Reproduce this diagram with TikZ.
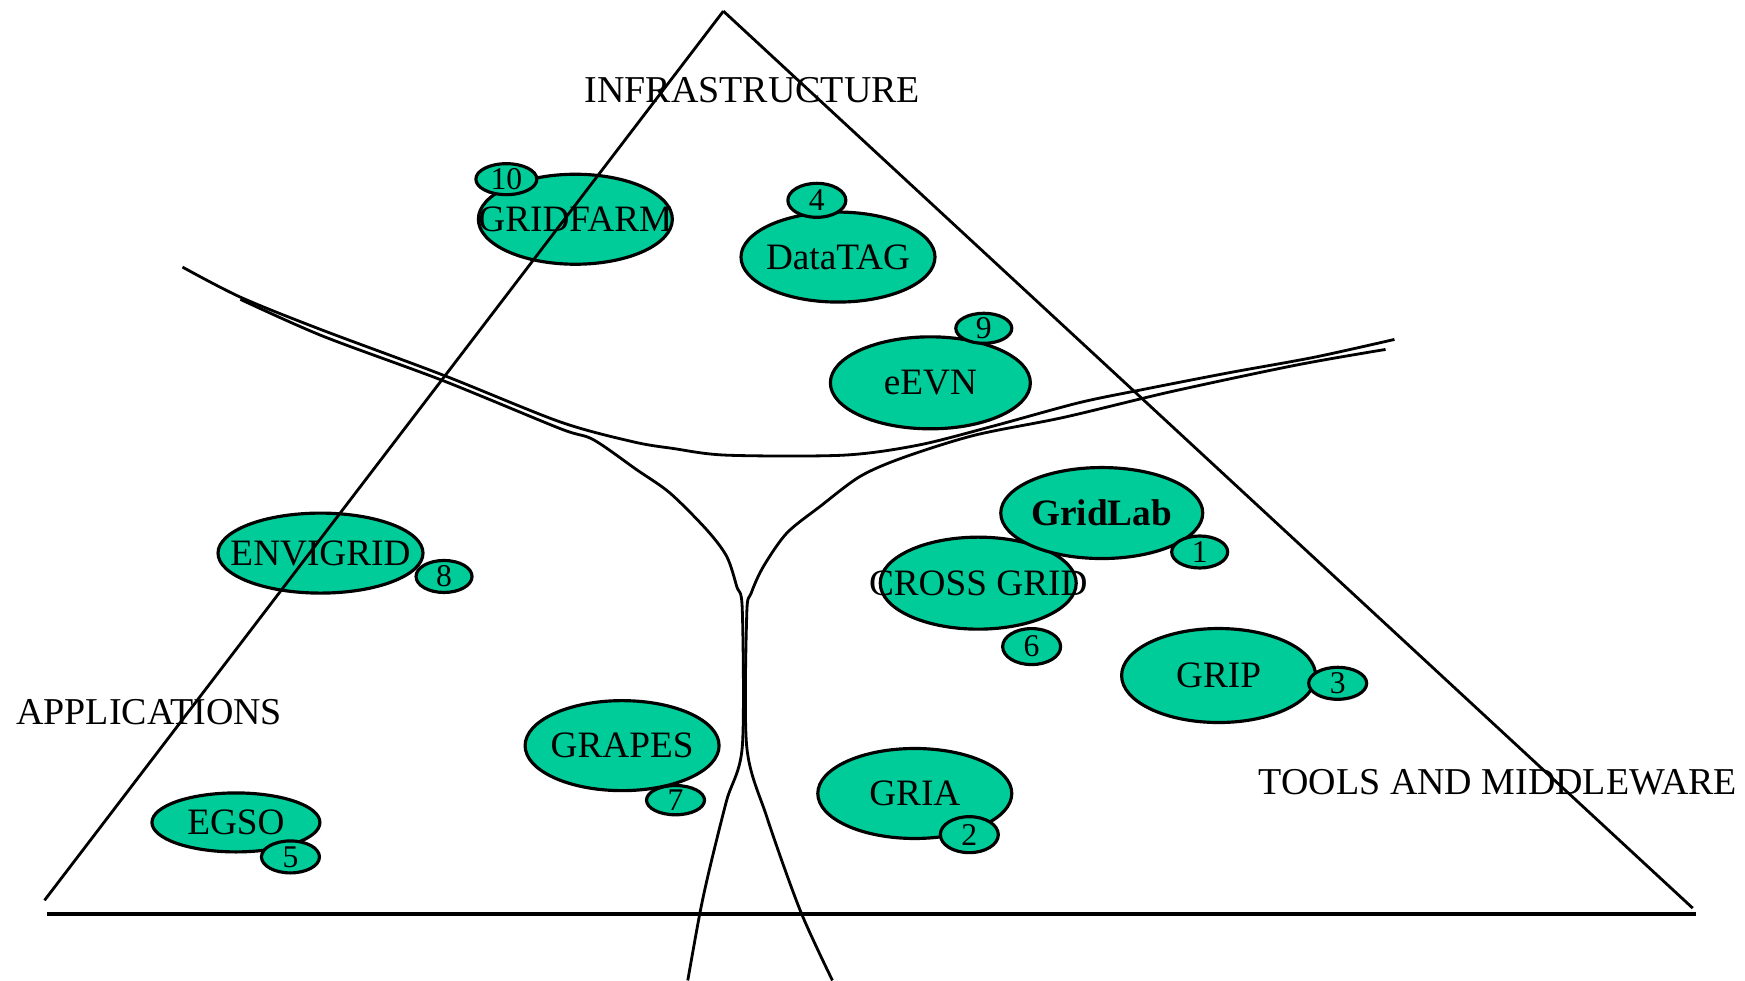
\documentclass[tikz,border=0pt]{standalone}
\usepackage{fontspec}
\setmainfont{Liberation Serif}
\usetikzlibrary{shapes}

\definecolor{projgreen}{RGB}{0,204,153}

\tikzset{
	proj/.style={ellipse, draw, line width=0.9pt, fill=projgreen, inner sep=0pt, minimum width=1.94cm, minimum height=0.9cm},
	num/.style={ellipse, draw, line width=0.9pt, fill=projgreen, inner sep=0pt, minimum width=0.58cm, minimum height=0.32cm, font=\fontsize{9}{9}\selectfont},
	field/.style={inner sep=0pt, font=\fontsize{10.8}{12}\selectfont},
	every label/.style={inner sep=0pt, font=\fontsize{10.6}{12}\selectfont},
	thin line/.style={line width=0.8pt},
}

\begin{document}
\begin{tikzpicture}[x=0.11129mm, y=-0.11129mm]
			%\draw[help lines] (0,0) grid (1568,881);
			\useasboundingbox (0,0) rectangle (1568,881);

			% projects
			\node[proj, label=center:GRIDFARM] (gridfarm) at (517,197) {};
			\node[proj, label=center:DataTAG] (datatag) at (753,231) {};
			\node[proj, minimum width=2cm, minimum height=0.92cm, label=center:eEVN] (eevn) at (836,344) {};
			\node[proj, minimum width=1.96cm, minimum height=0.92cm, label=center:{CROSS GRID}] (crossgrid) at (879,524) {};
			\node[proj, minimum width=2.02cm, minimum height=0.91cm, label=center:\textbf{GridLab}] (gridlab) at (990,461) {};
			\node[proj, minimum height=0.94cm, label=center:GRIP] (grip) at (1095,607) {};
			\node[proj, label=center:GRIA] (gria) at (822,713) {};
			\node[proj, label=center:GRAPES] (grapes) at (559,670) {};
			\node[proj, minimum width=1.68cm, minimum height=0.59cm, label=center:EGSO] (egso) at (212,739) {};
			\node[proj, minimum width=2.05cm, minimum height=0.8cm, label=center:ENVIGRID] (envigrid) at (288,497) {};

			% numbers
			\node[num, minimum width=0.61cm, minimum height=0.31cm] (n10) at (455,161) {10};
			\node[num, minimum height=0.34cm] (n4) at (734,180) {4};
			\node[num, minimum width=0.56cm, minimum height=0.3cm] (n9) at (884,295) {9};
			\node[num, minimum width=0.56cm] (n1) at (1078,496) {1};
			\node[num, minimum height=0.36cm] (n6) at (927,581) {6};
			\node[num] (n3) at (1202,614) {3};
			\node[num, minimum height=0.36cm] (n2) at (871,750) {2};
			\node[num, minimum height=0.29cm] (n7) at (607,719) {7};
			\node[num] (n5) at (261,770) {5};
			\node[num, minimum width=0.56cm] (n8) at (399,518) {8};

			% triangle
			\draw[thin line] (650,10) -- (40,809);
			\draw[thin line] (650,10) -- (1521,816);
			\draw[line width=1.2pt] (42,821) -- (1524,821);

			% borders between the fields
			\draw[thin line] plot[smooth, tension=0.5] coordinates {(164,240) (216,267) (288,296) (398,337) (503,379) (569,397) (605,403) (653,409) (758,409) (825,400) (892,383) (969,362) (1027,350) (1104,335) (1181,321) (1253,305)};
			\draw[thin line] plot[smooth, tension=0.5] coordinates {(216,269) (290,302) (398,342) (503,385) (533,395) (572,422) (602,443) (635,476) (653,500) (662,527) (667,548) (667,671) (653,719) (638,779) (629,820) (618,881)};
			\draw[thin line] plot[smooth, tension=0.5] coordinates {(1245,314) (1165,328) (1052,352) (956,375) (876,391) (812,411) (773,428) (737,455) (707,479) (686,509) (675,533) (671,552) (671,671) (689,734) (719,818) (748,881)};

			% fields
			\node[field] (infra) at (676,81) {INFRASTRUCTURE};
			\node[field] (appl) at (134,640) {APPLICATIONS};
			\node[field] (tools) at (1346,703) {TOOLS AND MIDDLEWARE};
\end{tikzpicture}
\end{document}
